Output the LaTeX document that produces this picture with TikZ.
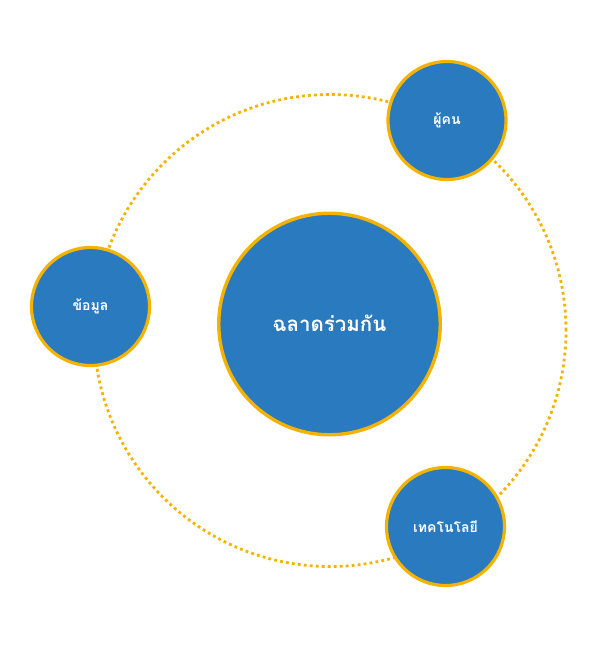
\documentclass[tikz,border=0pt]{standalone}
\usepackage{fontspec}
\newfontfamily\thaifont[Script=Thai]{Loma}
\definecolor{hubblue}{RGB}{41,122,190}
\definecolor{ringgold}{RGB}{246,178,0}
\tikzset{
  hub/.style={circle, draw=ringgold, line width=3.4pt, fill=hubblue, text=white,
    minimum size=221.5pt, inner sep=0pt, font=\thaifont\bfseries\fontsize{20.5}{24}\selectfont},
  satellite/.style={circle, draw=ringgold, line width=3.2pt, fill=hubblue, text=white,
    minimum size=118pt, inner sep=0pt, font=\thaifont\bfseries\fontsize{14}{16}\selectfont},
  orbit/.style={ringgold, line width=2.8pt, dash pattern=on 2.8pt off 3.2pt}
}
\begin{document}
\begin{tikzpicture}[x=1pt, y=-1pt]
        % Margini
        \useasboundingbox (0,0) rectangle (598,648);

        % Orbita tratteggiata
        \coordinate (orbitcenter) at (330,330.5);
        \draw[orbit] (orbitcenter) circle (236pt);

        % Cerchio centrale
        \node[hub] (together) at (329.5,324) {\raisebox{2pt}{ฉลาดร่วมกัน}};

        % Cerchi esterni
        \node[satellite] (people) at (447,120.5) {ผู้คน};
        \node[satellite] (data) at (90.5,306.5) {ข้อมูล};
        \node[satellite] (tech) at (445.5,526.5) {เทคโนโลยี};
    \end{tikzpicture}
\end{document}
